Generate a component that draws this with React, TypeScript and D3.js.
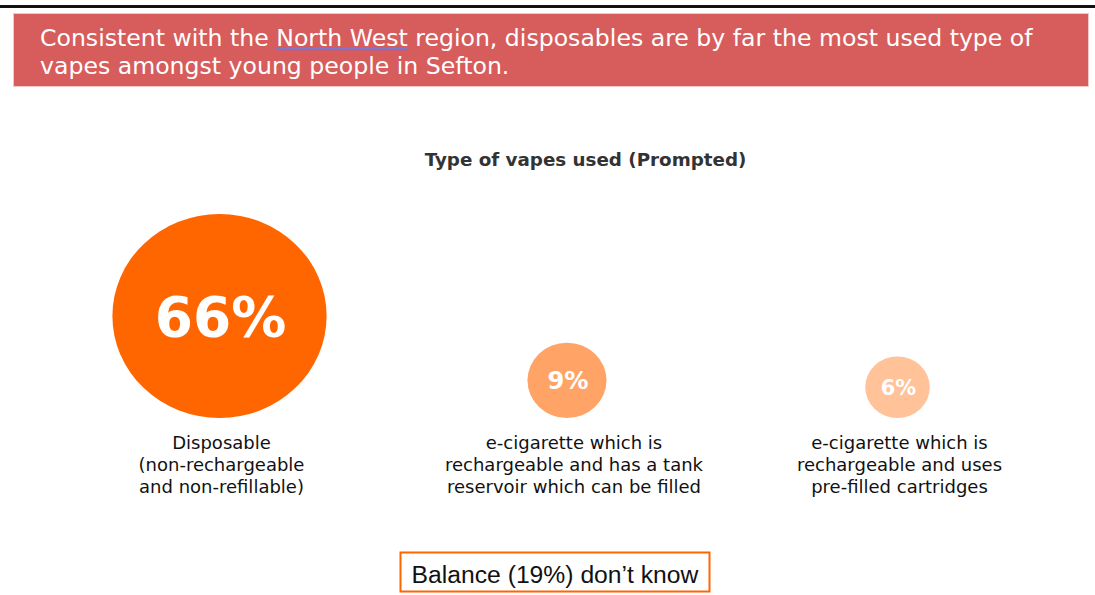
import React, { useEffect, useRef } from 'react';
import * as d3 from 'd3';

const headerLines = [
  'Consistent with the North West region, disposables are by far the most used type of',
  'vapes amongst young people in Sefton.',
];
const underlinedPhrase = 'North West';
const chartTitle = 'Type of vapes used (Prompted)';
const categories = ['Disposable', 'Tank', 'Cartridge'];
const categoryLabels = [
  ['Disposable', '(non-rechargeable', 'and non-refillable)'],
  ['e-cigarette which is', 'rechargeable and has a tank', 'reservoir which can be filled'],
  ['e-cigarette which is', 'rechargeable and uses', 'pre-filled cartridges'],
];
const values = [66, 9, 6];
const balanceValue = 19;
const balanceText = `Balance (${balanceValue}%) don’t know`;

const W = 1095;
const H = 595;

export default function App() {
  const ref = useRef<SVGSVGElement | null>(null);

  useEffect(() => {
    const svg = d3.select(ref.current);
    svg.selectAll('*').remove();

    // top rule
    svg.append('rect').attr('x', 0).attr('y', 5).attr('width', W).attr('height', 3).attr('fill', '#111');

    // header banner
    svg.append('rect')
      .attr('x', 13.5).attr('y', 13.5).attr('width', 1075).attr('height', 73)
      .attr('fill', '#D75C5C').attr('stroke', '#F0C8C8').attr('stroke-width', 1);

    const header = svg.append('g').attr('font-family', '"DejaVu Sans", Verdana, sans-serif')
      .attr('font-size', 23.6).attr('fill', '#fff');
    const hl = header.selectAll('text').data(headerLines).join('text')
      .attr('x', 40).attr('y', (_d, i) => 46 + i * 28).text(d => d);

    const firstNode = hl.nodes()[0] as SVGTextElement;
    const idx = headerLines[0].indexOf(underlinedPhrase);
    if (firstNode && idx >= 0) {
      const start = firstNode.getSubStringLength(0, idx);
      const len = firstNode.getSubStringLength(idx, underlinedPhrase.length);
      svg.append('line').attr('x1', 40 + start).attr('x2', 40 + start + len)
        .attr('y1', 48.5).attr('y2', 48.5).attr('stroke', '#7a7acc').attr('stroke-width', 1);
      svg.append('line').attr('x1', 40 + start).attr('x2', 40 + start + len)
        .attr('y1', 50).attr('y2', 50).attr('stroke', '#c05a8a').attr('stroke-width', 1.2);
    }

    // chart title
    svg.append('text').attr('x', 585.5).attr('y', 166).attr('text-anchor', 'middle')
      .attr('font-family', '"DejaVu Sans", Verdana, sans-serif').attr('font-weight', 'bold')
      .attr('font-size', 18.3).attr('fill', '#333').text(chartTitle);

    // scales
    const x = d3.scaleOrdinal<string, number>().domain(categories).range([219.5, 567, 897.5]);
    const r = d3.scaleSqrt().domain([0, d3.max(values) as number]).range([0, 102]);
    const color = d3.scaleOrdinal<string, string>().domain(categories).range(['#FF6600', '#FFA366', '#FFC299']);
    const fontScale = d3.scaleLinear().domain([31, 102]).range([21, 55]);
    const baseY = 418;
    const stretch = 1.05;

    const data = categories.map((c, i) => ({ c, v: values[i], lines: categoryLabels[i] }));

    const g = svg.append('g');
    const items = g.selectAll('g.item').data(data).join('g').attr('class', 'item');

    items.append('ellipse')
      .attr('cx', d => x(d.c))
      .attr('cy', d => baseY - r(d.v))
      .attr('rx', d => r(d.v) * stretch)
      .attr('ry', d => r(d.v))
      .attr('fill', d => color(d.c));

    items.append('text')
      .attr('x', d => x(d.c) + 1)
      .attr('y', d => baseY - r(d.v) + fontScale(r(d.v)) * 0.36)
      .attr('text-anchor', 'middle')
      .attr('font-family', '"DejaVu Sans", Verdana, sans-serif').attr('font-weight', 'bold')
      .attr('font-size', d => fontScale(r(d.v)))
      .attr('fill', '#fff')
      .text(d => `${d.v}%`);

    const lbl = items.append('text')
      .attr('text-anchor', 'middle')
      .attr('font-family', '"DejaVu Sans", Verdana, sans-serif')
      .attr('font-size', 18).attr('fill', '#111');
    lbl.selectAll('tspan').data(d => d.lines.map(l => ({ l, cx: x(d.c) + (d.c === 'Tank' ? 7 : 2) }))).join('tspan')
      .attr('x', d => d.cx).attr('y', (_d, i) => 449 + i * 22).text(d => d.l);

    // balance box
    svg.append('rect').attr('x', 400.5).attr('y', 552.5).attr('width', 309).attr('height', 39)
      .attr('fill', '#fff').attr('stroke', '#FF6600').attr('stroke-width', 2);
    svg.append('text').attr('x', 555).attr('y', 583).attr('text-anchor', 'middle')
      .attr('font-family', '"Liberation Sans", Arial, sans-serif').attr('font-size', 24.7)
      .attr('fill', '#111').text(balanceText);
  }, []);

  return (
    <svg ref={ref} width={W} height={H} style={{ position: 'absolute', left: 0, top: 0, background: '#fff' }} />
  );
}
